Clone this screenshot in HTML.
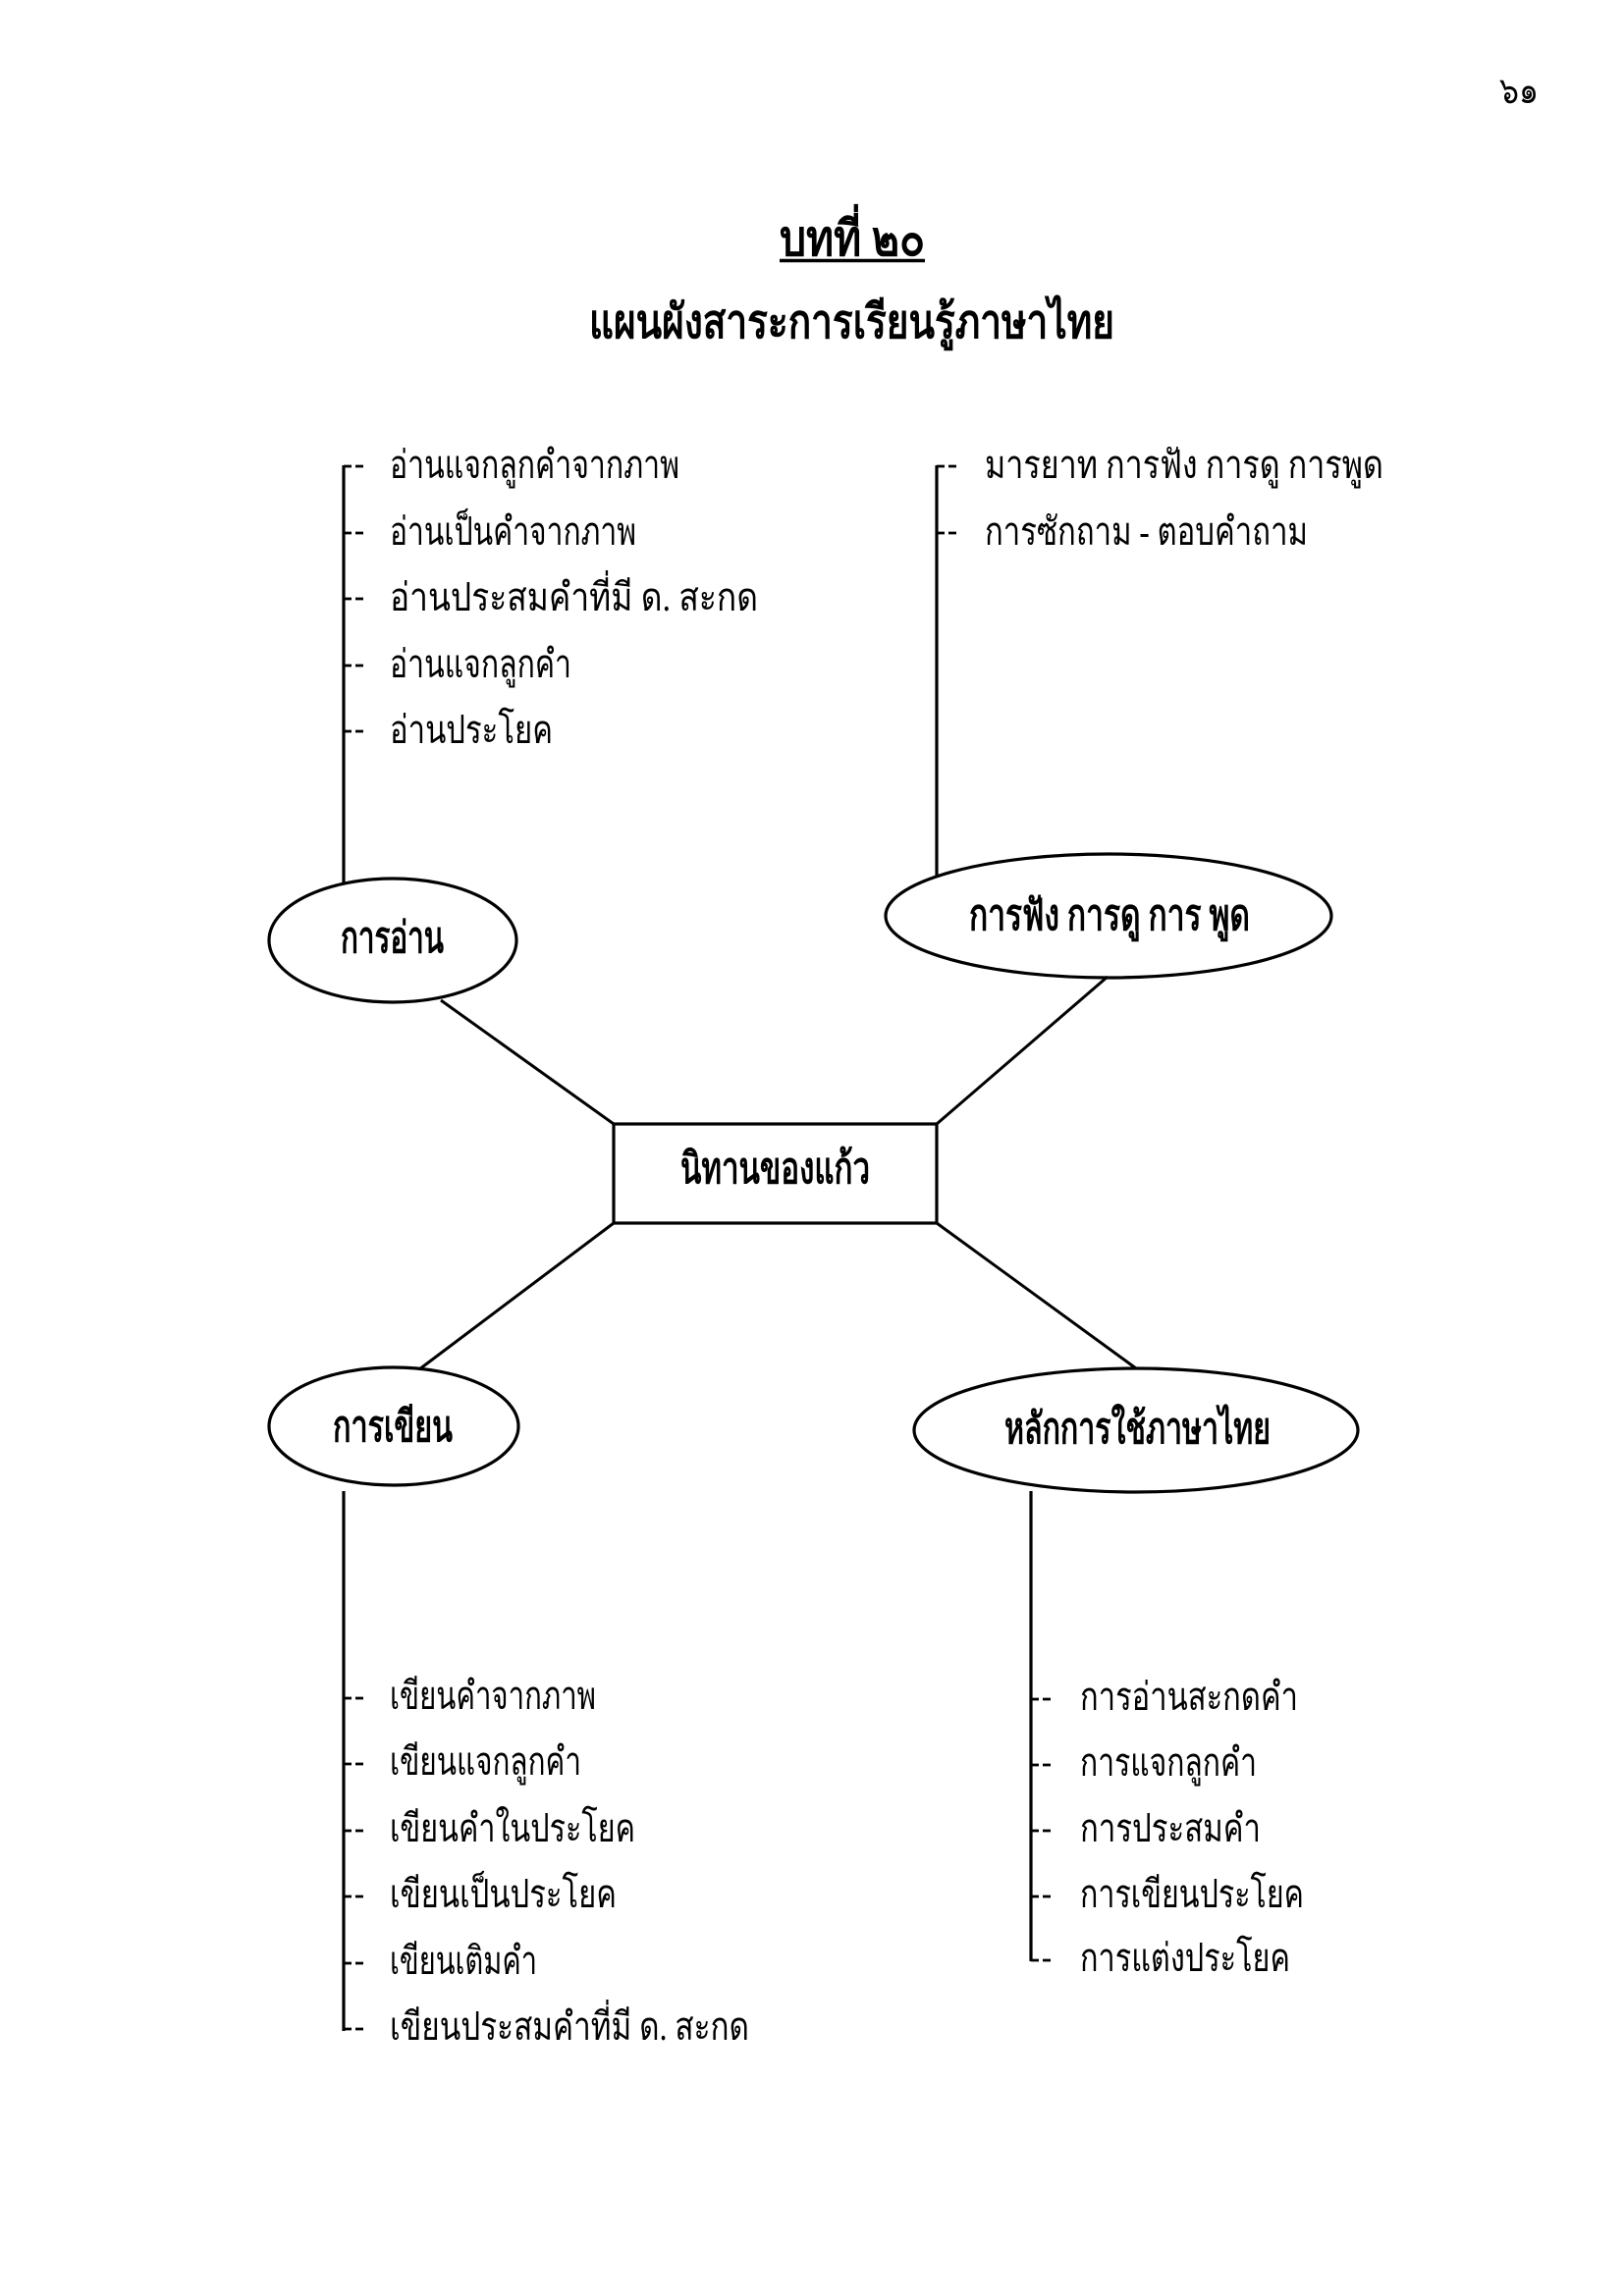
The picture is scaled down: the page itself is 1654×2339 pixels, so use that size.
<!DOCTYPE html>
<html>
<head>
<meta charset="utf-8">
<style>
  html, body { margin:0; padding:0; background:#fff; }
  svg { display:block; }
  text { font-family: "Liberation Serif", "Noto Serif CJK SC", serif; fill:#000; }
  .it { font-size:40px; }
  .b { font-weight:bold; font-size:44px; }
</style>
</head>
<body>
<svg width="1654" height="2339" viewBox="0 0 1654 2339" xmlns="http://www.w3.org/2000/svg">
  <rect x="0" y="0" width="1654" height="2339" fill="#fff"/>

  <!-- page number -->
  <text x="1527" y="105" style="font-size:38px" textLength="40" lengthAdjust="spacingAndGlyphs">๖๑</text>

  <!-- title -->
  <text x="794" y="260" style="font-size:50px;font-weight:bold" textLength="148" lengthAdjust="spacingAndGlyphs">บทที่ ๒๐</text>
  <line x1="794" y1="265.5" x2="942" y2="265.5" stroke="#000" stroke-width="3.5"/>
  <text x="600" y="344" style="font-size:48px;font-weight:bold" textLength="535" lengthAdjust="spacingAndGlyphs">แผนผังสาระการเรียนรู้ภาษาไทย</text>

  <g stroke="#000" fill="none">
    <!-- left-top list line -->
    <line x1="350" y1="474" x2="350" y2="899" stroke-width="3.2"/>
    <!-- right-top list line -->
    <line x1="954" y1="474" x2="954" y2="894" stroke-width="3.2"/>
    <!-- bottom-left list line -->
    <line x1="350" y1="1519" x2="350" y2="2069" stroke-width="3.2"/>
    <!-- bottom-right list line -->
    <line x1="1050" y1="1519" x2="1050" y2="1998" stroke-width="3.2"/>

    <!-- dashes -->
    <g stroke-width="2.8">
      <!-- left top -->
      <path d="M350 475h8M362 475h8 M350 543h8M362 543h8 M350 610h8M362 610h8 M350 678h8M362 678h8 M350 745h8M362 745h8"/>
      <!-- right top -->
      <path d="M954 475h8M966 475h8 M954 543h8M966 543h8"/>
      <!-- bottom left -->
      <path d="M350 1730h8M362 1730h8 M350 1797h8M362 1797h8 M350 1865h8M362 1865h8 M350 1932h8M362 1932h8 M350 2000h8M362 2000h8 M350 2067h8M362 2067h8"/>
      <!-- bottom right -->
      <path d="M1050 1731h8M1062 1731h8 M1050 1798h8M1062 1798h8 M1050 1865h8M1062 1865h8 M1050 1932h8M1062 1932h8 M1050 1997h8M1062 1997h8"/>
    </g>

    <!-- ellipses -->
    <ellipse cx="400" cy="958" rx="126" ry="63" stroke-width="3.2"/>
    <ellipse cx="1129" cy="933" rx="227" ry="63" stroke-width="3.2"/>
    <ellipse cx="401" cy="1453" rx="127" ry="60" stroke-width="3.2"/>
    <ellipse cx="1157" cy="1457" rx="226" ry="63" stroke-width="3.2"/>

    <!-- center box -->
    <rect x="625" y="1145" width="329" height="101" stroke-width="3.2"/>

    <!-- connectors -->
    <line x1="449" y1="1019" x2="625" y2="1145" stroke-width="3"/>
    <line x1="1128" y1="995" x2="954" y2="1145" stroke-width="3"/>
    <line x1="625" y1="1246" x2="427" y2="1395" stroke-width="3"/>
    <line x1="954" y1="1246" x2="1157" y2="1394" stroke-width="3"/>
  </g>

  <!-- left-top items -->
  <text class="it" x="397" y="487" textLength="295" lengthAdjust="spacingAndGlyphs">อ่านแจกลูกคำจากภาพ</text>
  <text class="it" x="397" y="555" textLength="251" lengthAdjust="spacingAndGlyphs">อ่านเป็นคำจากภาพ</text>
  <text class="it" x="397" y="622" textLength="375" lengthAdjust="spacingAndGlyphs">อ่านประสมคำที่มี  ด.  สะกด</text>
  <text class="it" x="397" y="690" textLength="185" lengthAdjust="spacingAndGlyphs">อ่านแจกลูกคำ</text>
  <text class="it" x="397" y="757" textLength="166" lengthAdjust="spacingAndGlyphs">อ่านประโยค</text>

  <!-- right-top items -->
  <text class="it" x="1003" y="487" textLength="406" lengthAdjust="spacingAndGlyphs">มารยาท การฟัง  การดู  การพูด</text>
  <text class="it" x="1003" y="555" textLength="329" lengthAdjust="spacingAndGlyphs">การซักถาม - ตอบคำถาม</text>

  <!-- ellipse labels -->
  <text class="b" x="347" y="970" textLength="105" lengthAdjust="spacingAndGlyphs">การอ่าน</text>
  <text class="b" x="987" y="947" textLength="286" lengthAdjust="spacingAndGlyphs">การฟัง การดู การ พูด</text>
  <text class="b" x="693" y="1205" textLength="193" lengthAdjust="spacingAndGlyphs">นิทานของแก้ว</text>
  <text class="b" x="339" y="1468" textLength="122" lengthAdjust="spacingAndGlyphs">การเขียน</text>
  <text class="b" x="1023" y="1470" textLength="271" lengthAdjust="spacingAndGlyphs">หลักการใช้ภาษาไทย</text>

  <!-- bottom-left items -->
  <text class="it" x="397" y="1741" textLength="210" lengthAdjust="spacingAndGlyphs">เขียนคำจากภาพ</text>
  <text class="it" x="397" y="1808" textLength="195" lengthAdjust="spacingAndGlyphs">เขียนแจกลูกคำ</text>
  <text class="it" x="397" y="1876" textLength="250" lengthAdjust="spacingAndGlyphs">เขียนคำในประโยค</text>
  <text class="it" x="397" y="1943" textLength="231" lengthAdjust="spacingAndGlyphs">เขียนเป็นประโยค</text>
  <text class="it" x="397" y="2011" textLength="150" lengthAdjust="spacingAndGlyphs">เขียนเติมคำ</text>
  <text class="it" x="397" y="2078" textLength="366" lengthAdjust="spacingAndGlyphs">เขียนประสมคำที่มี ด. สะกด</text>

  <!-- bottom-right items -->
  <text class="it" x="1100" y="1742" textLength="222" lengthAdjust="spacingAndGlyphs">การอ่านสะกดคำ</text>
  <text class="it" x="1100" y="1809" textLength="180" lengthAdjust="spacingAndGlyphs">การแจกลูกคำ</text>
  <text class="it" x="1100" y="1876" textLength="184" lengthAdjust="spacingAndGlyphs">การประสมคำ</text>
  <text class="it" x="1100" y="1943" textLength="228" lengthAdjust="spacingAndGlyphs">การเขียนประโยค</text>
  <text class="it" x="1100" y="2008" textLength="214" lengthAdjust="spacingAndGlyphs">การแต่งประโยค</text>
</svg>
</body>
</html>
